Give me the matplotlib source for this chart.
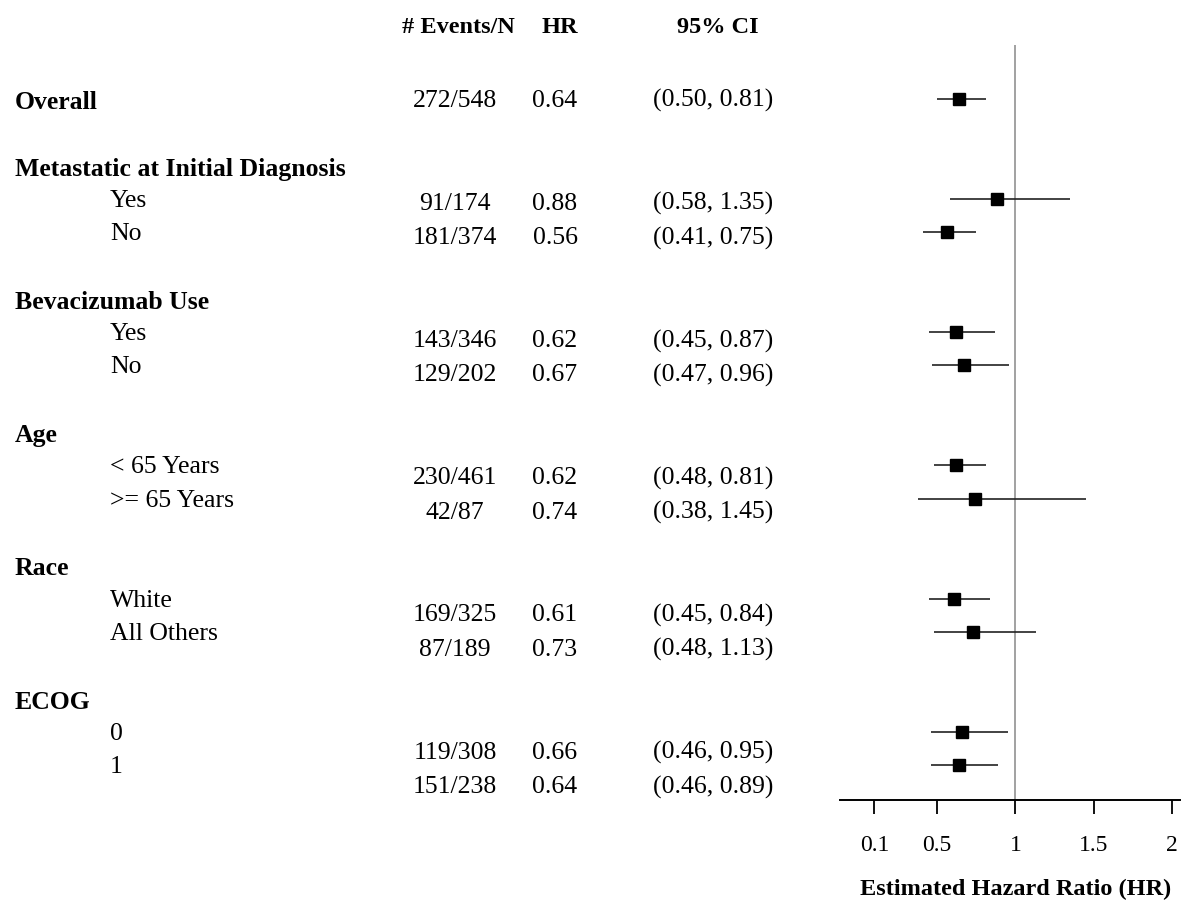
import numpy as np
import matplotlib
matplotlib.use('Agg')
import matplotlib.pyplot as plt
from matplotlib.transforms import blended_transform_factory

plt.rcParams['font.family'] = ['Liberation Serif', 'DejaVu Serif']

# Subgroup table
groups = ['Overall', 'Metastatic at Initial Diagnosis', 'Bevacizumab Use', 'Age', 'Race', 'ECOG']
subgroups = [
    [],
    ['Yes', 'No'],
    ['Yes', 'No'],
    ['< 65 Years', '>= 65 Years'],
    ['White', 'All Others'],
    ['0', '1'],
]
events = ['272/548', '91/174', '181/374', '143/346', '129/202', '230/461', '42/87',
          '169/325', '87/189', '119/308', '151/238']
hr = [0.64, 0.88, 0.56, 0.62, 0.67, 0.62, 0.74, 0.61, 0.73, 0.66, 0.64]
ci_low = [0.50, 0.58, 0.41, 0.45, 0.47, 0.48, 0.38, 0.45, 0.48, 0.46, 0.46]
ci_high = [0.81, 1.35, 0.75, 0.87, 0.96, 0.81, 1.45, 0.84, 1.13, 0.95, 0.89]
xticks = [0.1, 0.5, 1, 1.5, 2]

# Row layout: each group header takes one row, followed by its subgroups and a blank row
header_rows, label_rows, est_rows = [], [], []
r = 0
for g, subs in zip(groups, subgroups):
    header_rows.append(r)
    if not subs:
        est_rows.append(r)
        r += 2
        continue
    r += 1
    for s in subs:
        label_rows.append((s, r))
        est_rows.append(r)
        r += 1
    r += 1
est_rows = np.array(est_rows, dtype=float)
# the numbers column runs on a slightly wider line spacing
value_rows = est_rows * 1.03

W, H = 1181, 900
fig = plt.figure(figsize=(W / 100, H / 100), dpi=100)
ax = fig.add_axes([840 / W, 1 - 800 / H, 340 / W, 755 / H])
ax.set_xlim(-0.12, 2.05)
ax.set_ylim(20.99, -1.68)

ax.axvline(1, color='#9a9a9a', lw=1.3, zorder=1)
ax.hlines(est_rows - 0.06, ci_low, ci_high, color='#222222', lw=1.2, zorder=2)
ax.plot(hr, est_rows - 0.06, 's', color='black', ms=8.5, zorder=3)

for s in ['top', 'right', 'left']:
    ax.spines[s].set_visible(False)
ax.spines['bottom'].set_linewidth(1.4)
ax.set_yticks([])
ax.set_xticks(xticks)
ax.set_xticklabels([f'{t:g}' for t in xticks], fontsize=17)
ax.tick_params(axis='x', direction='out', length=10, width=1.3, pad=15)
ax.set_xlabel('Estimated Hazard Ratio (HR)', fontsize=17.5, fontweight='bold', labelpad=17)
# centre the axis title under the reference line at HR = 1
x0, x1 = ax.get_xlim()
ax.xaxis.label.set_x((1 - x0) / (x1 - x0))

trans = blended_transform_factory(fig.transFigure, ax.transData)
fs = 18.5

# column headings
for txt, x in [('# Events/N', 458), ('HR', 560), ('95% CI', 718)]:
    ax.text(x / W, -2.2, txt, transform=trans, ha='center', va='center',
            fontsize=17.5, fontweight='bold', clip_on=False)

for g, row in zip(groups, header_rows):
    ax.text(15 / W, row + 0.05, g, transform=trans, ha='left', va='center',
            fontsize=fs, fontweight='bold', clip_on=False)
for s, row in label_rows:
    ax.text(110 / W, row, s, transform=trans, ha='left', va='center',
            fontsize=fs, clip_on=False)

for ev, h, lo, hi, row in zip(events, hr, ci_low, ci_high, value_rows):
    ax.text(455 / W, row, ev, transform=trans, ha='center', va='center', fontsize=fs, clip_on=False)
    ax.text(555 / W, row, f'{h:.2f}', transform=trans, ha='center', va='center', fontsize=fs, clip_on=False)
    ax.text(713 / W, row, f'({lo:.2f}, {hi:.2f})', transform=trans, ha='center', va='center',
            fontsize=fs, clip_on=False)

fig.savefig('out.png', dpi=100)
